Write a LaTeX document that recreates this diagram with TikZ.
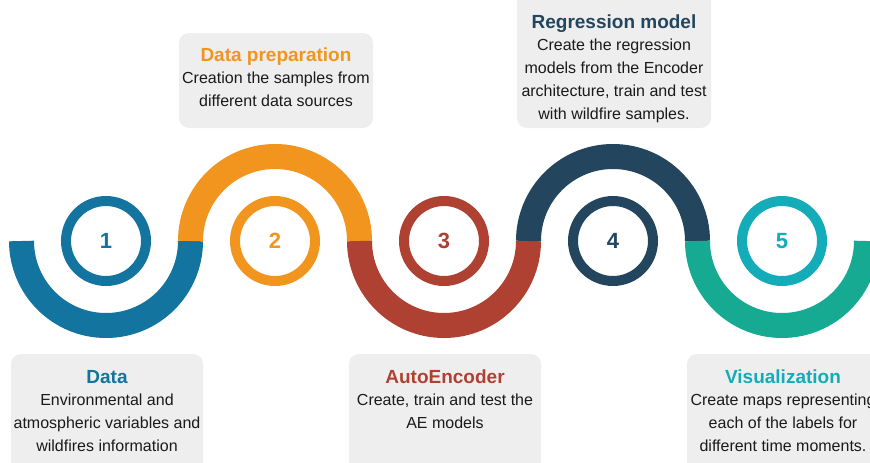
\documentclass[tikz,border=0pt]{standalone}
\usepackage{fontspec}
\setmainfont{Liberation Sans}
\usetikzlibrary{calc}

\definecolor{cblue}{HTML}{13749F}
\definecolor{corange}{HTML}{F2951F}
\definecolor{cred}{HTML}{AE4132}
\definecolor{cnavy}{HTML}{23465E}
\definecolor{cteal}{HTML}{17AA93}
\definecolor{ccyan}{HTML}{14ACB8}
\definecolor{cardgray}{HTML}{EEEEEE}
\definecolor{txtdark}{HTML}{1A1A1A}

\newcommand{\titlefont}{\fontsize{19}{22}\selectfont\bfseries}
\newcommand{\bodyfont}{\fontsize{16}{23}\selectfont}

\begin{document}
\begin{tikzpicture}[x=1pt, y=-1pt,
  band/.style={line width=25pt, #1},
  ring/.style={circle, draw=#1, line width=10pt, minimum size=80pt, inner sep=0pt,
    text=#1, font=\fontsize{22}{22}\selectfont\bfseries},
  card/.style={fill=cardgray, rounded corners=10pt},
  ttl/.style={anchor=base, inner sep=0pt, font=\titlefont, text=#1},
  txt/.style={anchor=north, align=center, inner sep=0pt, font=\bodyfont, text=txtdark}]

\useasboundingbox (0,0) rectangle (870,463);
\clip (0,0) rectangle (870,463);

% 各步骤的中心
\coordinate (c1) at (106,241);
\coordinate (c2) at (275,241);
\coordinate (c3) at (444,241);
\coordinate (c4) at (613,241);
\coordinate (c5) at (782,241);

% 波浪带（上下交替的半圆）
\draw[band=cblue]   (c1) ++(84.5,0) arc[start angle=0, end angle=180, radius=84.5];
\draw[band=corange] (c2) ++(-84.5,0) arc[start angle=180, end angle=360, radius=84.5];
\draw[band=cred]    (c3) ++(84.5,0) arc[start angle=0, end angle=180, radius=84.5];
\draw[band=cnavy]   (c4) ++(-84.5,0) arc[start angle=180, end angle=360, radius=84.5];
\draw[band=cteal]   (c5) ++(84.5,0) arc[start angle=0, end angle=180, radius=84.5];

% 编号圆环
\node[ring=cblue]   (n1) at (c1) {1};
\node[ring=corange] (n2) at (c2) {2};
\node[ring=cred]    (n3) at (c3) {3};
\node[ring=cnavy]   (n4) at (c4) {4};
\node[ring=ccyan]   (n5) at (c5) {5};

% 说明框
\fill[card] (11,354) rectangle (203,480);
\fill[card] (179,33) rectangle (373,128);
\fill[card] (349,354) rectangle (541,480);
\fill[card] (517,-12) rectangle (711,128);
\fill[card] (687,354) rectangle (879,480);

% 标题与说明文字
\node[ttl=cblue] (t1) at (107,383) {Data};
\node[txt] (d1) at ([yshift=-10.5pt]t1.base)
  {Environmental and\\atmospheric variables and\\wildfires information};

\node[ttl=corange] (t2) at (276,61) {Data preparation};
\node[txt] (d2) at ([yshift=-10.5pt]t2.base)
  {Creation the samples from\\different data sources};

\node[ttl=cred] (t3) at (445,383) {AutoEncoder};
\node[txt] (d3) at ([yshift=-10.5pt]t3.base)
  {Create, train and test the\\AE models};

\node[ttl=cnavy] (t4) at (614,28) {Regression model};
\node[txt] (d4) at ([yshift=-10.5pt]t4.base)
  {Create the regression\\models from the Encoder\\architecture, train and test\\with wildfire samples.};

\node[ttl=ccyan] (t5) at (783,383) {Visualization};
\node[txt] (d5) at ([yshift=-10.5pt]t5.base)
  {Create maps representing\\each of the labels for\\different time moments.};

\end{tikzpicture}
\end{document}
